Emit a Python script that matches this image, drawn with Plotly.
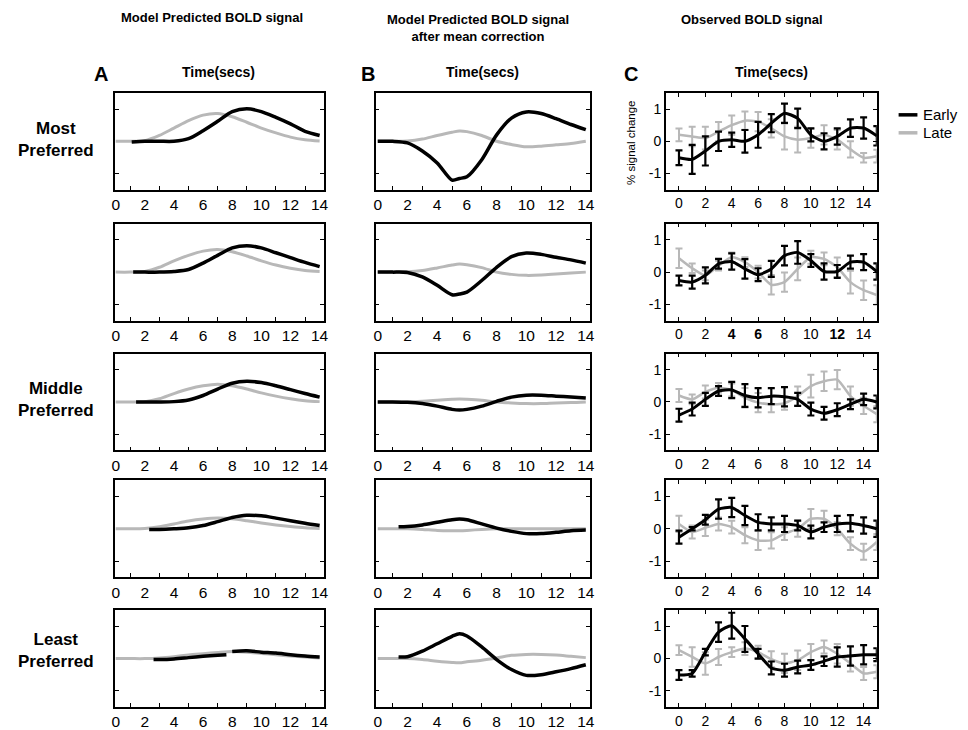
import plotly.graph_objects as go

# ---------------- DATA ----------------
# Column A: model predicted BOLD signal (5 preference levels, most -> least)
A_late_t = [0, 1, 2, 3, 4, 5, 6, 7, 8, 9, 10, 11, 12, 13, 14]
A_late = [
    [0, 0, 0.02, 0.18, 0.41, 0.64, 0.81, 0.86, 0.76, 0.59, 0.41, 0.26, 0.13, 0.05, 0.01],
    [0, 0, 0.02, 0.15, 0.35, 0.52, 0.65, 0.70, 0.63, 0.50, 0.35, 0.22, 0.12, 0.05, 0.02],
    [0, 0, 0.01, 0.10, 0.26, 0.40, 0.50, 0.55, 0.50, 0.40, 0.28, 0.18, 0.10, 0.04, 0.01],
    [0, 0, 0.01, 0.06, 0.15, 0.24, 0.30, 0.33, 0.31, 0.25, 0.18, 0.12, 0.07, 0.03, 0.01],
    [0, 0, 0, 0.02, 0.06, 0.11, 0.15, 0.19, 0.22, 0.20, 0.16, 0.12, 0.08, 0.05, 0.02],
]
A_early_t = [
    [1.1, 2, 3, 4, 5, 6, 7, 8, 9, 10, 11, 12, 13, 14],
    [1.2, 2, 3, 4, 5, 6, 7, 8, 9, 10, 11, 12, 13, 14],
    [1.4, 2, 3, 4, 5, 6, 7, 8, 9, 10, 11, 12, 13, 14],
    [2.3, 3, 4, 5, 6, 7, 8, 9, 10, 11, 12, 13, 14],
    [2.6, 3, 4, 5, 6, 7, 7.6, 7.8, 8, 9, 10, 11, 12, 13, 14],
]
A_early = [
    [-0.02, 0, 0, 0, 0.08, 0.33, 0.62, 0.92, 1.01, 0.92, 0.74, 0.54, 0.31, 0.18],
    [0, 0, 0, 0.02, 0.08, 0.28, 0.52, 0.75, 0.82, 0.75, 0.60, 0.45, 0.30, 0.17],
    [0, 0, 0, 0.01, 0.06, 0.20, 0.40, 0.58, 0.64, 0.60, 0.50, 0.38, 0.26, 0.15],
    [-0.02, -0.02, 0, 0.03, 0.10, 0.22, 0.35, 0.42, 0.40, 0.33, 0.25, 0.17, 0.10],
    [-0.03, -0.03, -0.01, 0.03, 0.07, 0.10, 0.12, None, 0.22, 0.24, 0.20, 0.17, 0.12, 0.08, 0.05],
]

# Column B: model predicted BOLD signal after mean correction
B_late_t = [0, 1, 2, 3, 4, 5, 5.5, 6, 7, 8, 9, 10, 11, 12, 13, 14]
B_late = [
    [0, 0, 0.01, 0.07, 0.18, 0.28, 0.32, 0.30, 0.18, 0, -0.10, -0.17, -0.15, -0.11, -0.07, 0],
    [0, 0, 0.01, 0.05, 0.13, 0.22, 0.25, 0.23, 0.14, 0, -0.07, -0.10, -0.09, -0.06, -0.03, 0],
    [0, 0, 0, 0.02, 0.05, 0.08, 0.09, 0.08, 0.05, 0, -0.03, -0.05, -0.05, -0.03, -0.02, 0],
    [0, 0, 0, -0.02, -0.05, -0.06, -0.06, -0.05, -0.02, 0, 0, 0, 0, 0, 0, 0],
    [0, 0, 0, -0.03, -0.08, -0.12, -0.13, -0.10, -0.05, 0.02, 0.10, 0.13, 0.13, 0.11, 0.07, 0.03],
]
B_early_t = [
    [0, 1, 2, 3, 4, 5, 5.5, 6, 7, 8, 9, 10, 11, 12, 13, 14],
    [0, 1, 2, 3, 4, 5, 5.5, 6, 7, 8, 9, 10, 11, 12, 13, 14],
    [0, 1, 2, 3, 4, 5, 5.5, 6, 7, 8, 9, 10, 11, 12, 13, 14],
    [1.4, 2, 3, 4, 5, 5.5, 6, 7, 8, 9, 10, 11, 12, 13, 14],
    [1.4, 2, 3, 4, 5, 5.5, 6, 7, 8, 9, 10, 11, 12, 13, 14],
]
B_early = [
    [0, 0, -0.05, -0.30, -0.67, -1.20, -1.15, -1.10, -0.57, 0.20, 0.72, 0.91, 0.86, 0.70, 0.52, 0.36],
    [0, 0, -0.01, -0.15, -0.41, -0.70, -0.68, -0.62, -0.26, 0.15, 0.48, 0.59, 0.55, 0.46, 0.38, 0.28],
    [0, 0, -0.01, -0.05, -0.13, -0.23, -0.25, -0.23, -0.13, 0.02, 0.15, 0.21, 0.21, 0.18, 0.15, 0.12],
    [0.06, 0.07, 0.12, 0.20, 0.28, 0.30, 0.28, 0.15, 0.02, -0.08, -0.15, -0.15, -0.11, -0.06, -0.04],
    [0.05, 0.06, 0.23, 0.46, 0.69, 0.77, 0.70, 0.36, -0.03, -0.34, -0.52, -0.50, -0.41, -0.31, -0.19],
]

# Column C: observed BOLD signal (% signal change) with error bars
C_t = list(range(16))
C_early = [
    [-0.51, -0.56, -0.30, 0, 0.05, 0, 0.20, 0.56, 0.87, 0.71, 0.20, 0, 0.15, 0.41, 0.41, 0.17],
    [-0.26, -0.31, -0.10, 0.26, 0.33, 0.10, -0.08, 0.10, 0.51, 0.61, 0.36, 0.02, 0.02, 0.31, 0.31, 0.02],
    [-0.41, -0.22, 0.08, 0.34, 0.37, 0.20, 0.13, 0.18, 0.16, 0.08, -0.22, -0.35, -0.24, -0.07, 0.08, 0],
    [-0.26, 0, 0.28, 0.61, 0.66, 0.41, 0.20, 0.15, 0.15, 0.10, -0.10, 0.05, 0.15, 0.17, 0.10, 0],
    [-0.51, -0.46, 0.20, 0.82, 1.02, 0.61, 0.15, -0.29, -0.36, -0.26, -0.20, -0.08, 0.05, 0.08, 0.12, 0.12],
]
C_early_err = [
    [0.23, 0.45, 0.45, 0.30, 0.22, 0.35, 0.40, 0.28, 0.30, 0.30, 0.20, 0.25, 0.25, 0.27, 0.33, 0.30],
    [0.15, 0.20, 0.25, 0.15, 0.25, 0.30, 0.20, 0.25, 0.30, 0.35, 0.20, 0.25, 0.20, 0.20, 0.25, 0.25],
    [0.20, 0.20, 0.20, 0.15, 0.25, 0.35, 0.30, 0.25, 0.30, 0.20, 0.20, 0.20, 0.20, 0.15, 0.18, 0.20],
    [0.20, 0.05, 0.15, 0.30, 0.30, 0.30, 0.25, 0.20, 0.25, 0.15, 0.20, 0.15, 0.25, 0.25, 0.25, 0.25],
    [0.15, 0.10, 0.10, 0.30, 0.40, 0.40, 0.15, 0.20, 0.20, 0.20, 0.15, 0.15, 0.30, 0.30, 0.30, 0.20],
]
C_late = [
    [0.20, 0.15, 0.10, 0.30, 0.50, 0.64, 0.61, 0.40, 0.15, 0.05, 0.10, 0.20, 0.05, -0.25, -0.51, -0.46],
    [0.43, 0.12, -0.10, 0.20, 0.46, 0.31, 0, -0.39, -0.31, 0.10, 0.46, 0.41, 0.15, -0.31, -0.56, -0.71],
    [0.20, 0.08, 0.31, 0.44, 0.37, 0.13, -0.02, -0.07, -0.04, 0.18, 0.49, 0.64, 0.69, 0.18, -0.12, -0.38],
    [0.15, -0.10, 0.03, 0.15, 0.05, -0.20, -0.36, -0.36, -0.15, 0, 0.31, 0.31, 0, -0.46, -0.71, -0.41],
    [0.26, 0.05, -0.15, 0.05, 0.20, 0.31, 0.20, -0.02, -0.15, -0.05, 0.20, 0.36, 0.15, -0.15, -0.46, -0.41],
]
C_late_err = [
    [0.20, 0.30, 0.35, 0.30, 0.30, 0.28, 0.30, 0.28, 0.40, 0.40, 0.30, 0.30, 0.30, 0.25, 0.15, 0.20],
    [0.30, 0.15, 0.15, 0.15, 0.15, 0.15, 0.20, 0.30, 0.30, 0.35, 0.20, 0.20, 0.30, 0.35, 0.30, 0.30],
    [0.20, 0.15, 0.20, 0.15, 0.20, 0.30, 0.30, 0.25, 0.20, 0.30, 0.35, 0.30, 0.30, 0.30, 0.25, 0.25],
    [0.25, 0.20, 0.25, 0.20, 0.20, 0.25, 0.30, 0.25, 0.20, 0.25, 0.30, 0.25, 0.20, 0.20, 0.25, 0.25],
    [0.15, 0.30, 0.35, 0.25, 0.15, 0.20, 0.20, 0.25, 0.30, 0.30, 0.25, 0.20, 0.30, 0.25, 0.20, 0.20],
]

row_labels = ["Most<br>Preferred", "", "Middle<br>Preferred", "", "Least<br>Preferred"]
col_titles = ["Model Predicted BOLD signal",
              "Model Predicted BOLD signal<br>after mean correction",
              "Observed BOLD signal"]
panel_letters = ["A", "B", "C"]
series_names = ["Early", "Late"]
model_ticks = [0, 2, 4, 6, 8, 10, 12, 14]
obs_ticks = [0, 2, 4, 6, 8, 10, 12, 14]

# ---------------- STYLE / LAYOUT ----------------
W, H = 968, 730
BLACK = "#000000"
GRAY = "#b8b8b8"
FONT = "Liberation Sans, Arial, sans-serif"

col_px = [(112, 323), (375, 591), (668, 881)]
row_tops = [93, 224, 354, 481, 611]
row_h = 97
row_label_y = [140, None, 400, None, 651]
xranges = [[-0.05, 14.3], [-0.15, 14.25], [-1, 15]]


def xd(l, r):
    return [l / W, r / W]


def yd(top, bottom):
    return [1 - bottom / H, 1 - top / H]


fig = go.Figure()
layout = {}

for r in range(5):
    for c in range(3):
        k = r * 3 + c + 1
        xa = "x" if k == 1 else f"x{k}"
        ya = "y" if k == 1 else f"y{k}"
        xkey = "xaxis" if k == 1 else f"xaxis{k}"
        ykey = "yaxis" if k == 1 else f"yaxis{k}"
        top = row_tops[r]
        if c < 2:
            layout[xkey] = dict(
                domain=xd(*col_px[c]), anchor=ya, range=xranges[c],
                tickvals=model_ticks, ticktext=[str(v) for v in model_ticks],
                ticks="", showline=True, linecolor=BLACK, linewidth=1.5, mirror=True,
                showgrid=False, zeroline=False,
                tickfont=dict(family=FONT, size=15.5, color=BLACK),
                minor=dict(tickvals=[1, 3, 5, 7, 9, 11, 13], ticks="inside",
                           ticklen=4, tickcolor=BLACK, showgrid=False),
            )
            layout[ykey] = dict(
                domain=yd(top, top + row_h), anchor=xa, range=[-1.5, 1.5],
                tickvals=[-1, 1], ticks="inside", ticklen=4, tickcolor=BLACK,
                showticklabels=False, showline=True, linecolor=BLACK, linewidth=1.5,
                mirror="ticks", showgrid=False, zeroline=False,
            )
            if c == 0:
                lt, lv, et, ev = A_late_t, A_late[r], A_early_t[r], A_early[r]
            else:
                lt, lv, et, ev = B_late_t, B_late[r], B_early_t[r], B_early[r]
            fig.add_trace(go.Scatter(x=lt, y=lv, xaxis=xa, yaxis=ya, mode="lines",
                                     line=dict(color=GRAY, width=3, shape="spline", smoothing=0.8),
                                     showlegend=False, hoverinfo="skip"))
            fig.add_trace(go.Scatter(x=et, y=ev, xaxis=xa, yaxis=ya, mode="lines",
                                     line=dict(color=BLACK, width=3.5, shape="spline", smoothing=0.8),
                                     connectgaps=False, showlegend=False, hoverinfo="skip"))
        else:
            if r == 1:
                ttext = ["0", "2", "<b>4</b>", "<b>6</b>", "8", "10", "<b>12</b>", "14"]
            else:
                ttext = [str(v) for v in obs_ticks]
            layout[xkey] = dict(
                domain=xd(*col_px[c]), anchor=ya, range=xranges[c],
                tickvals=obs_ticks, ticktext=ttext, ticks="inside", ticklen=4,
                tickcolor=BLACK, showline=True, linecolor=BLACK, linewidth=1.5,
                mirror="ticks", showgrid=False, zeroline=False,
                tickfont=dict(family=FONT, size=14, color=BLACK),
            )
            layout[ykey] = dict(
                domain=yd(top, top + row_h), anchor=xa, range=[-1.5, 1.5],
                tickvals=[-1, 0, 1], ticktext=["-1", "0", "1"], ticks="inside",
                ticklen=4, tickcolor=BLACK, showline=True, linecolor=BLACK,
                linewidth=1.5, mirror="ticks", showgrid=False, zeroline=False,
                tickfont=dict(family=FONT, size=14, color=BLACK),
            )
            fig.add_trace(go.Scatter(
                x=C_t, y=C_late[r], xaxis=xa, yaxis=ya, mode="lines",
                line=dict(color=GRAY, width=2.5, shape="spline", smoothing=0.6),
                error_y=dict(type="data", array=C_late_err[r], color=GRAY, thickness=2, width=3.5),
                showlegend=False, hoverinfo="skip"))
            fig.add_trace(go.Scatter(
                x=C_t, y=C_early[r], xaxis=xa, yaxis=ya, mode="lines",
                line=dict(color=BLACK, width=3, shape="spline", smoothing=0.6),
                error_y=dict(type="data", array=C_early_err[r], color=BLACK, thickness=2.2, width=3.5),
                showlegend=False, hoverinfo="skip"))

annotations = []


def ann(text, x, y, size, bold=False, angle=0, xanchor="center", yanchor="middle"):
    annotations.append(dict(
        text=f"<b>{text}</b>" if bold else text, x=x / W, y=1 - y / H,
        xref="paper", yref="paper", showarrow=False, textangle=angle,
        xanchor=xanchor, yanchor=yanchor,
        font=dict(family=FONT, size=size, color=BLACK)))


# column titles
ann(col_titles[0], 210, 18, 13, bold=True)
ann(col_titles[1], 478, 28, 13, bold=True)
ann(col_titles[2], 755, 20, 13, bold=True)
# panel letters and time labels
letter_x = [98, 367, 633]
time_x = [217, 483, 775]
for c in range(3):
    ann(panel_letters[c], letter_x[c], 74, 20, bold=True)
    ann("Time(secs)", time_x[c], 72, 14, bold=True)
# row labels
for r in range(5):
    if row_labels[r]:
        ann(row_labels[r], 52, row_label_y[r], 17, bold=True)
# y-axis title for observed panel
ann("% signal change", 633, 143, 11.5, angle=-90)
# legend text
ann(series_names[0], 926, 115, 15, xanchor="left")
ann(series_names[1], 926, 133, 15, xanchor="left")

shapes = [
    dict(type="line", xref="paper", yref="paper", x0=903 / W, x1=922 / W,
         y0=1 - 115 / H, y1=1 - 115 / H, line=dict(color=BLACK, width=3.5)),
    dict(type="line", xref="paper", yref="paper", x0=903 / W, x1=922 / W,
         y0=1 - 133 / H, y1=1 - 133 / H, line=dict(color=GRAY, width=3.5)),
]

fig.update_layout(
    width=W, height=H, margin=dict(l=0, r=0, t=0, b=0),
    paper_bgcolor="white", plot_bgcolor="white",
    showlegend=False, annotations=annotations, shapes=shapes,
    font=dict(family=FONT, color=BLACK),
    **layout,
)

fig.write_html("out.html", config={"displayModeBar": False},
               post_script="document.body.style.margin='0px';")
